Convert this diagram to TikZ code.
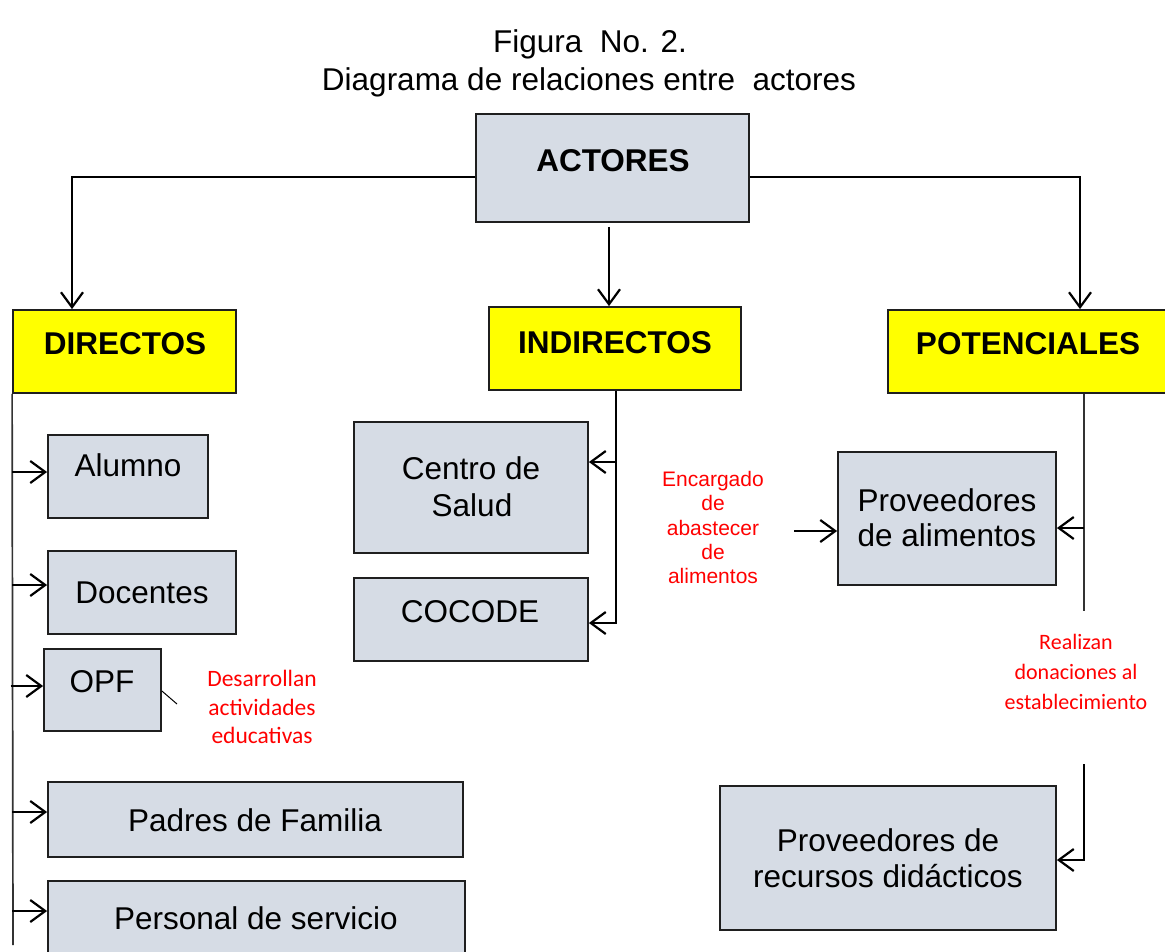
\documentclass[tikz,border=0pt]{standalone}
\usepackage{fontspec}
\setmainfont{Liberation Sans}
\newfontfamily\calib{Carlito}
\usetikzlibrary{arrows.meta}
\definecolor{boxfill}{HTML}{D6DCE5}
\definecolor{hyellow}{HTML}{FFFF00}
\begin{document}
\begin{tikzpicture}[x=1pt,y=-1pt,
  box/.style={draw=black!88, line width=1.8pt, fill=boxfill, inner sep=0pt},
  ybox/.style={box, fill=hyellow},
  txt/.style={anchor=base, inner sep=0pt, font=\fontsize{31.5}{36}\selectfont},
  htxt/.style={anchor=base, inner sep=0pt, font=\fontsize{31.5}{36}\selectfont\bfseries},
  reda/.style={anchor=base, inner sep=0pt, text=red, font=\fontsize{21}{24}\selectfont},
  redc/.style={anchor=base, inner sep=0pt, text=red, font=\calib\fontsize{22}{26}\selectfont},
  redd/.style={anchor=base, inner sep=0pt, text=red, font=\calib\fontsize{23.5}{27}\selectfont},
  conn/.style={line width=1.7pt, draw=black!80},
  arr/.style={line width=1.9pt, draw=black, -{Straight Barb[length=15pt,width=22pt,line width=2.2pt]}},
]
\useasboundingbox[fill=white] (0,0) rectangle (1165,951);

% title
\node[txt] (t1) at (590,52) {Figura\ \ No. 2.};
\node[txt] (t2) at (589,90) {Diagrama de relaciones entre\ \ actores};

% boxes
\node[box, minimum width=273pt, minimum height=108pt] (actores) at (612.5,168) {};
\node[ybox, minimum width=223pt, minimum height=83pt] (directos) at (124.5,351.5) {};
\node[ybox, minimum width=252pt, minimum height=83pt] (indirectos) at (615,348.5) {};
\node[ybox, minimum width=282pt, minimum height=83pt] (potenciales) at (1029,351.5) {};

\node[box, minimum width=160pt, minimum height=83pt] (alumno) at (128,476.5) {};
\node[box, minimum width=188pt, minimum height=83pt] (docentes) at (142,592.5) {};
\node[box, minimum width=117pt, minimum height=82pt] (opf) at (102.5,690) {};
\node[box, minimum width=415pt, minimum height=75pt] (padres) at (255.5,819.5) {};
\node[box, minimum width=417pt, minimum height=82pt] (personal) at (256.5,922) {};

\node[box, minimum width=234pt, minimum height=131pt] (centro) at (471,487.5) {};
\node[box, minimum width=234pt, minimum height=83pt] (cocode) at (471,619.5) {};

\node[box, minimum width=218pt, minimum height=133pt] (provalim) at (947,518.5) {};
\node[box, minimum width=336pt, minimum height=144pt] (provrec) at (888,858) {};

% box texts
\node[htxt] (lactores) at (613,171) {ACTORES};
\node[htxt] (ldirectos) at (125,354) {DIRECTOS};
\node[htxt] (lindirectos) at (615,353) {INDIRECTOS};
\node[htxt] (lpotenciales) at (1028,354) {POTENCIALES};
\node[txt] (lalumno) at (128,476) {Alumno};
\node[txt] (ldocentes) at (142,603) {Docentes};
\node[txt] (lopf) at (102,692) {OPF};
\node[txt] (lpadres) at (255,831) {Padres de Familia};
\node[txt] (lpersonal) at (256,929) {Personal de servicio};
\node[txt] (lcentroa) at (471,479) {Centro de};
\node[txt] (lcentrob) at (472,516) {Salud};
\node[txt] (lcocode) at (470,622) {COCODE};
\node[txt] (lprova) at (947,511) {Proveedores};
\node[txt] (lprovb) at (947,546) {de alimentos};
\node[txt] (lreca) at (888,851) {Proveedores de};
\node[txt] (lrecb) at (888,887) {recursos did\'acticos};

% red annotations
\node[redd] (d1) at (262,686) {Desarrollan};
\node[redd] (d2) at (262,715) {actividades};
\node[redd] (d3) at (262,743) {educativas};
\node[reda] (e1) at (713,486) {Encargado};
\node[reda] (e2) at (713,510) {de};
\node[reda] (e3) at (713,535) {abastecer};
\node[reda] (e4) at (713,559) {de};
\node[reda] (e5) at (713,583) {alimentos};
\node[redc] (r1) at (1076,649) {Realizan};
\node[redc] (r2) at (1076,679) {donaciones al};
\node[redc] (r3) at (1076,709) {establecimiento};

% connectors from ACTORES
\draw[arr] ([yshift=-9pt]actores.west) -| ([xshift=-52.5pt]directos.north);
\draw[arr] ([yshift=-9pt]actores.east) -| ([xshift=51pt]potenciales.north);
\coordinate (aS) at ([xshift=-3.5pt,yshift=-4pt]actores.south);
\draw[arr] (aS) -- (aS |- indirectos.north);

% DIRECTOS trunk
\coordinate (dEnd) at (13,945);
\draw[conn] (directos.south west) -- (dEnd);
\coordinate (alIn) at ([yshift=4.5pt]alumno.west);
\coordinate (doIn) at ([yshift=7.5pt]docentes.west);
\coordinate (opIn) at ([yshift=4pt]opf.west);
\coordinate (paIn) at ([yshift=7.5pt]padres.west);
\coordinate (peIn) at ([yshift=11pt]personal.west);
\coordinate (opStart) at (10.5,686);
\draw[arr] (directos.south west |- alIn) -- (alIn);
\draw[arr] (directos.south west |- doIn) -- (doIn);
\draw[arr] (opStart) -- (opIn);
\draw[arr] (directos.south west |- paIn) -- (paIn);
\draw[arr] (directos.south west |- peIn) -- (peIn);
\coordinate (opTick) at (177,704);
\draw[line width=1pt] ([yshift=-1pt]opf.east) -- (opTick);

% INDIRECTOS trunk
\coordinate (iT) at ([xshift=1pt]indirectos.south);
\coordinate (ceIn) at ([yshift=25.5pt]centro.east);
\coordinate (coIn) at ([yshift=-3.5pt]cocode.east);
\draw[arr] (iT) |- (coIn);
\draw[arr] (iT |- ceIn) -- (ceIn);

% POTENCIALES trunk
\coordinate (pT) at ([xshift=55pt]potenciales.south);
\coordinate (pEnd) at (1084,611);
\draw[conn] (pT) -- (pEnd);
\coordinate (pvIn) at ([yshift=-9.5pt]provalim.east);
\draw[arr] (pT |- pvIn) -- (pvIn);
\coordinate (p2) at (1084,764);
\coordinate (prIn) at ([yshift=-2pt]provrec.east);
\draw[arr] (p2) |- (prIn);

% Encargado arrow
\coordinate (encStart) at (794,531);
\draw[arr] (encStart) -- (provalim.west |- encStart);
\end{tikzpicture}
\end{document}
